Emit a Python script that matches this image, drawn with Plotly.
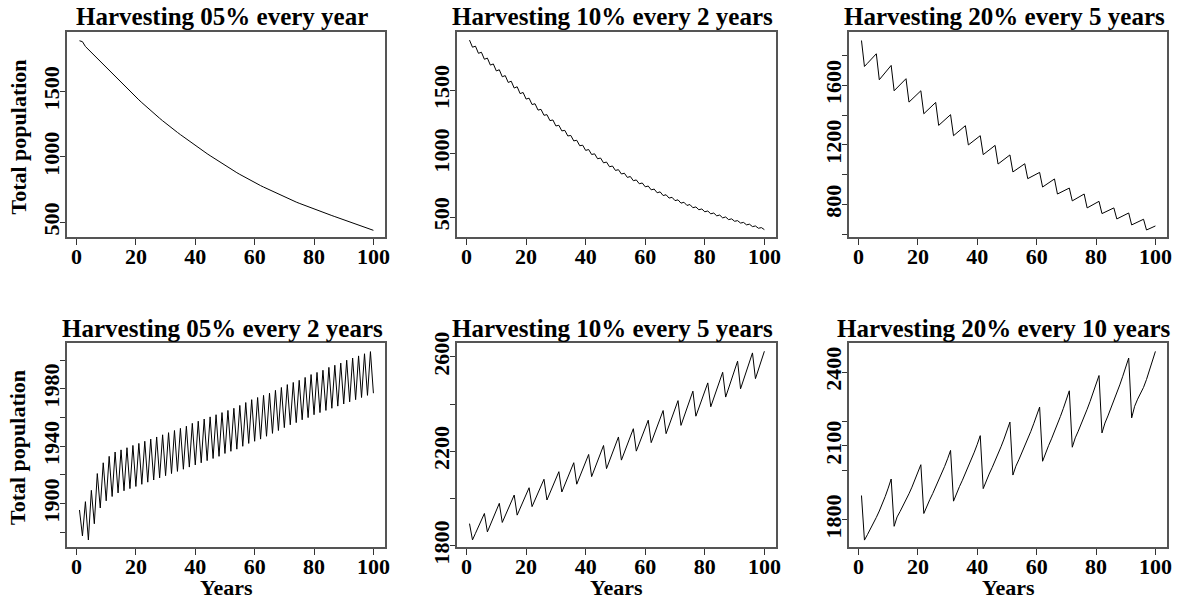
import plotly.graph_objects as go

# ---------------- data ----------------
years = list(range(1, 101))

pop_05_every_1 = [1889, 1882, 1845, 1822, 1799, 1777, 1755, 1733, 1712, 1691,
                  1667, 1643, 1619, 1596, 1573, 1550, 1527, 1504, 1481, 1459,
                  1437, 1416, 1395, 1375, 1355, 1335, 1315, 1296, 1277, 1258,
                  1240, 1222, 1205, 1188, 1171, 1154, 1137, 1120, 1104, 1088,
                  1072, 1056, 1040, 1025, 1010, 995, 980, 965, 950, 935,
                  921, 907, 893, 880, 867, 854, 841, 829, 817, 805,
                  793, 781, 770, 759, 748, 737, 726, 715, 704, 694,
                  684, 674, 664, 655, 646, 637, 628, 619, 610, 602,
                  594, 585, 577, 568, 560, 552, 544, 536, 528, 520,
                  512, 504, 495, 487, 479, 471, 463, 455, 447, 439]

pop_10_every_2 = [1896, 1840, 1848, 1792, 1800, 1745, 1754, 1699, 1708, 1653,
                  1662, 1607, 1616, 1562, 1572, 1518, 1528, 1474, 1483, 1431,
                  1438, 1388, 1394, 1344, 1350, 1303, 1308, 1261, 1266, 1219,
                  1224, 1180, 1184, 1140, 1144, 1101, 1106, 1063, 1067, 1026,
                  1033, 994, 999, 960, 966, 928, 934, 897, 903, 868,
                  874, 840, 846, 813, 820, 787, 793, 763, 769, 739,
                  745, 715, 721, 692, 699, 670, 676, 650, 656, 630,
                  636, 610, 617, 592, 599, 574, 580, 558, 564, 542,
                  548, 526, 532, 510, 516, 494, 501, 480, 486, 467,
                  472, 453, 458, 439, 444, 425, 430, 412, 417, 401]

pop_20_every_5 = [1900, 1726, 1747, 1768, 1790, 1811, 1637, 1661, 1685, 1709,
                  1733, 1563, 1583, 1603, 1624, 1644, 1487, 1506, 1525, 1544,
                  1563, 1409, 1428, 1447, 1466, 1485, 1331, 1349, 1367, 1385,
                  1403, 1262, 1279, 1296, 1312, 1329, 1200, 1215, 1231, 1246,
                  1262, 1135, 1150, 1166, 1181, 1197, 1072, 1087, 1102, 1118,
                  1133, 1019, 1033, 1047, 1060, 1074, 974, 984, 995, 1005,
                  1016, 918, 932, 945, 959, 972, 871, 881, 891, 901,
                  911, 825, 837, 848, 860, 871, 778, 789, 800, 811,
                  822, 740, 750, 759, 769, 778, 704, 714, 724, 734,
                  744, 664, 674, 683, 693, 702, 630, 639, 648, 657]

pop_05_every_2 = [1895.6, 1877.5, 1901.4, 1874.7, 1909.3, 1886, 1921, 1897, 1928.5, 1902,
                  1933, 1905, 1936, 1907.5, 1937.5, 1909, 1939, 1910.5, 1940.6, 1912,
                  1942, 1913.5, 1943.5, 1915, 1945, 1916.5, 1946.5, 1918, 1948, 1919.5,
                  1949.5, 1921, 1951, 1922.5, 1952.5, 1924, 1954, 1925.5, 1956, 1927,
                  1957.5, 1928.5, 1959, 1930, 1960.5, 1931.5, 1962, 1933, 1963.5, 1935,
                  1965, 1936.5, 1966.5, 1938, 1968.5, 1940, 1970.5, 1942, 1972.5, 1943.5,
                  1974, 1945, 1975.5, 1947, 1977, 1949, 1979, 1951, 1981, 1953,
                  1983, 1955, 1984.5, 1956.5, 1986, 1958.5, 1988, 1960, 1990, 1962,
                  1991.5, 1963.5, 1993, 1965, 1995, 1966.5, 1996.5, 1968, 1998, 1969.5,
                  2000, 1971, 2001.5, 1972.5, 2003, 1974, 2004.5, 1975.5, 2006, 1977]

pop_10_every_5 = [1894, 1825, 1853, 1881, 1909, 1937, 1859, 1889, 1919, 1950,
                  1980, 1899, 1928, 1957, 1986, 2015, 1930, 1958, 1987, 2016,
                  2046, 1966, 1995, 2024, 2053, 2082, 1994, 2024, 2054, 2084,
                  2114, 2028, 2059, 2090, 2121, 2152, 2061, 2093, 2124, 2156,
                  2187, 2093, 2126, 2159, 2192, 2225, 2127, 2161, 2194, 2228,
                  2261, 2163, 2196, 2229, 2263, 2296, 2201, 2234, 2266, 2299,
                  2332, 2237, 2271, 2305, 2339, 2373, 2275, 2310, 2345, 2380,
                  2415, 2310, 2346, 2382, 2419, 2455, 2349, 2384, 2420, 2455,
                  2490, 2389, 2425, 2462, 2498, 2535, 2430, 2468, 2506, 2544,
                  2582, 2465, 2503, 2541, 2579, 2617, 2508, 2547, 2585, 2624]

pop_20_every_10 = [1899, 1718, 1740, 1762, 1785, 1810, 1836, 1864, 1895, 1929,
                   1966, 1774, 1812, 1834, 1857, 1881, 1906, 1933, 1961, 1991,
                   2024, 1826, 1858, 1882, 1907, 1933, 1960, 1988, 2017, 2048,
                   2082, 1876, 1910, 1935, 1961, 1988, 2016, 2045, 2075, 2107,
                   2142, 1927, 1961, 1986, 2012, 2039, 2067, 2097, 2128, 2161,
                   2197, 1982, 2018, 2044, 2071, 2099, 2128, 2158, 2190, 2223,
                   2258, 2038, 2074, 2101, 2129, 2158, 2188, 2220, 2253, 2288,
                   2324, 2095, 2133, 2160, 2188, 2218, 2249, 2281, 2314, 2349,
                   2386, 2153, 2193, 2222, 2252, 2283, 2315, 2348, 2383, 2419,
                   2457, 2214, 2261, 2290, 2312, 2338, 2370, 2405, 2443, 2484]

titles = ["Harvesting 05% every year", "Harvesting 10% every 2 years",
          "Harvesting 20% every 5 years", "Harvesting 05% every 2 years",
          "Harvesting 10% every 5 years", "Harvesting 20% every 10 years"]

x_ticks = [0, 20, 40, 60, 80, 100]

y_tick_vals = [[500, 1000, 1500],
               [500, 1000, 1500],
               [600, 800, 1000, 1200, 1400, 1600, 1800],
               [1880, 1900, 1920, 1940, 1960, 1980, 2000],
               [1800, 2000, 2200, 2400, 2600],
               [1800, 2000, 2100, 2200, 2400]]
y_tick_text = [["500", "1000", "1500"],
               ["500", "1000", "1500"],
               ["", "800", "", "1200", "", "1600", ""],
               ["", "1900", "", "1940", "", "1980", ""],
               ["1800", "", "2200", "", "2600"],
               ["1800", "", "2100", "", "2400"]]

y_ranges = [[388, 1956], [343, 1960], [583, 1957],
            [1869.8, 2012], [1795, 2659], [1690, 2518]]

series = [pop_05_every_1, pop_10_every_2, pop_20_every_5,
          pop_05_every_2, pop_10_every_5, pop_20_every_10]

# ---------------- layout constants ----------------
W, H = 1189, 598
FONT = "Liberation Serif"
boxes = [(67, 385, 32, 237), (457, 776, 32, 237), (849, 1167, 32, 237),
         (67, 385, 343, 547), (457, 776, 343, 547), (849, 1167, 343, 547)]


def bold(labels):
    return [f"<b>{s}</b>" if s else "" for s in labels]


fig = go.Figure()
layout = {}
annotations = []
for i, ys in enumerate(series):
    n = i + 1
    xa = "x" if n == 1 else f"x{n}"
    ya = "y" if n == 1 else f"y{n}"
    l, r, t, b = boxes[i]
    fig.add_trace(go.Scatter(x=years, y=ys, mode="lines",
                             line=dict(color="black", width=1),
                             xaxis=xa, yaxis=ya, showlegend=False,
                             hoverinfo="skip"))
    tickfont = dict(family=FONT, size=22, color="black")
    layout["xaxis" if n == 1 else f"xaxis{n}"] = dict(
        domain=[l / W, r / W], range=[-3.2, 103.9], anchor=ya,
        tickmode="array", tickvals=x_ticks, ticktext=bold([str(v) for v in x_ticks]),
        ticks="outside", ticklen=6, tickwidth=1.2, tickcolor="#333",
        ticklabelstandoff=-7,
        showline=True, mirror=True, linecolor="#555", linewidth=1.5,
        showgrid=False, zeroline=False, tickfont=tickfont, fixedrange=True,
        automargin=False)
    layout["yaxis" if n == 1 else f"yaxis{n}"] = dict(
        domain=[1 - b / H, 1 - t / H], range=y_ranges[i], anchor=xa,
        tickmode="array", tickvals=y_tick_vals[i], ticktext=bold(y_tick_text[i]),
        tickangle=-90, ticks="outside", ticklen=5, tickwidth=1.2, tickcolor="#333",
        ticklabelstandoff=-8,
        showline=True, mirror=True, linecolor="#555", linewidth=1.5,
        showgrid=False, zeroline=False, tickfont=tickfont, fixedrange=True,
        automargin=False)
    annotations.append(dict(
        text=f"<b>{titles[i]}</b>", xref="paper", yref="paper",
        x=((l + r) / 2 - 4) / W, y=1 - (t - 15) / H,
        xanchor="center", yanchor="middle", showarrow=False,
        font=dict(family=FONT, size=25, color="black")))
    if i in (0, 3):
        annotations.append(dict(
            text="<b>Total population</b>", xref="paper", yref="paper",
            x=18 / W, y=1 - ((t + b) / 2 + 3) / H, textangle=-90,
            xanchor="center", yanchor="middle", showarrow=False,
            font=dict(family=FONT, size=22, color="black")))
    if i >= 3:
        annotations.append(dict(
            text="<b>Years</b>", xref="paper", yref="paper",
            x=((l + r) / 2) / W, y=1 - 587 / H,
            xanchor="center", yanchor="middle", showarrow=False,
            font=dict(family=FONT, size=22, color="black")))

fig.update_layout(width=W, height=H, margin=dict(l=0, r=0, t=0, b=0, autoexpand=False),
                  paper_bgcolor="white", plot_bgcolor="white",
                  annotations=annotations, **layout)
fig.write_html("out.html", config={"displayModeBar": False},
               post_script="document.body.style.margin='0px';document.body.style.overflow='hidden';")
